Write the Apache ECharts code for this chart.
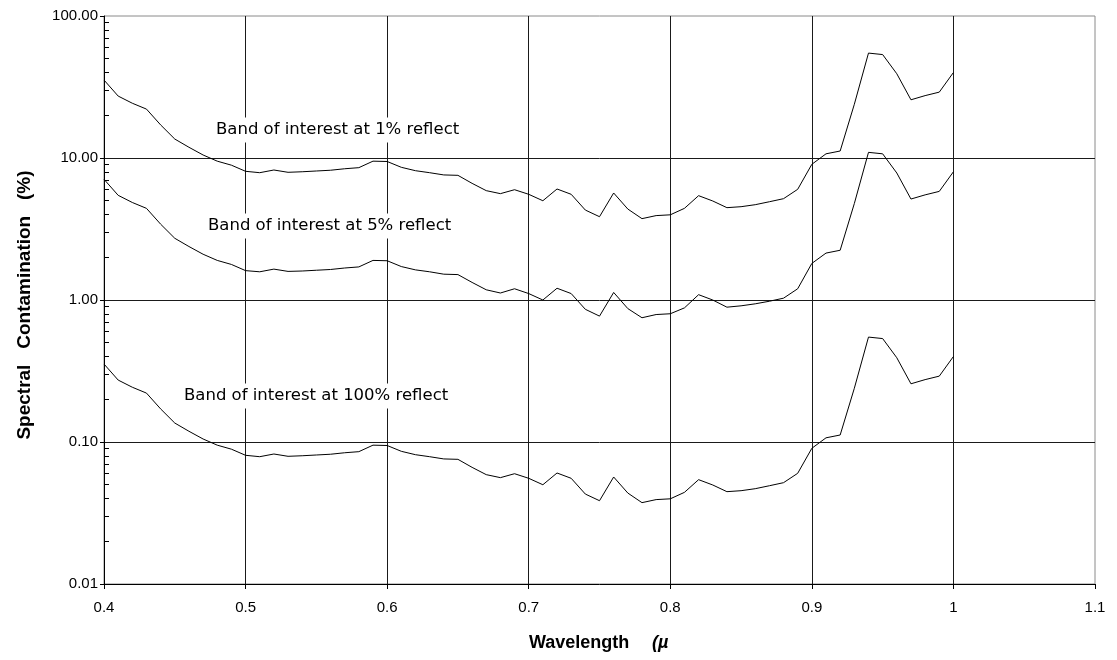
<!DOCTYPE html>
<html>
<head>
<meta charset="utf-8">
<script src="https://cdn.jsdelivr.net/npm/echarts@6/dist/echarts.min.js"></script>
<style>
html,body{margin:0;padding:0;background:#fff;}
#chart{width:1117px;height:660px;}
</style>
</head>
<body>
<div id="chart"></div>
<script>
// Wavelength (µm)
const wavelength = [0.40,0.41,0.42,0.43,0.44,0.45,0.46,0.47,0.48,0.49,
  0.50,0.51,0.52,0.53,0.54,0.55,0.56,0.57,0.58,0.59,
  0.60,0.61,0.62,0.63,0.64,0.65,0.66,0.67,0.68,0.69,
  0.70,0.71,0.72,0.73,0.74,0.75,0.76,0.77,0.78,0.79,
  0.80,0.81,0.82,0.83,0.84,0.85,0.86,0.87,0.88,0.89,
  0.90,0.91,0.92,0.93,0.94,0.95,0.96,0.97,0.98,0.99,1.00];

// Band of interest at 1% reflectance
const refl1 = [35.4,27.3,24.3,22.1,17.1,13.6,11.9,10.5,9.5,8.9,
  8.06,7.88,8.23,7.93,8.0,8.1,8.2,8.4,8.55,9.5,
  9.45,8.6,8.14,7.88,7.6,7.55,6.63,5.89,5.61,5.98,
  5.55,5.0,6.05,5.55,4.3,3.86,5.67,4.37,3.74,3.93,
  3.98,4.42,5.43,4.98,4.47,4.54,4.69,4.92,5.17,6.02,
  9.03,10.7,11.2,23.9,54.8,53.5,39.2,25.7,27.5,29.1,40.0];

// Band of interest at 5% reflectance
const refl5 = [7.08,5.46,4.86,4.42,3.42,2.72,2.38,2.10,1.90,1.78,
  1.61,1.58,1.65,1.59,1.60,1.62,1.64,1.68,1.71,1.90,
  1.89,1.72,1.63,1.58,1.52,1.51,1.33,1.18,1.12,1.20,
  1.11,1.00,1.21,1.11,0.86,0.77,1.13,0.87,0.75,0.79,
  0.80,0.88,1.09,1.00,0.89,0.91,0.94,0.98,1.03,1.20,
  1.81,2.14,2.24,4.78,10.96,10.70,7.84,5.14,5.50,5.82,8.00];

// Band of interest at 100% reflectance
const refl100 = [0.354,0.273,0.243,0.221,0.171,0.136,0.119,0.105,0.095,0.089,
  0.0806,0.0788,0.0823,0.0793,0.080,0.081,0.082,0.084,0.0855,0.095,
  0.0945,0.086,0.0814,0.0788,0.076,0.0755,0.0663,0.0589,0.0561,0.0598,
  0.0555,0.050,0.0605,0.0555,0.043,0.0386,0.0567,0.0437,0.0374,0.0393,
  0.0398,0.0442,0.0543,0.0498,0.0447,0.0454,0.0469,0.0492,0.0517,0.0602,
  0.0903,0.107,0.112,0.239,0.548,0.535,0.392,0.257,0.275,0.291,0.400];

const bandLabels = ['Band of interest at 1% reflectance',
                    'Band of interest at 5% reflectance',
                    'Band of interest at 100% reflectance'];

const yMinorTicks = [0.02,0.03,0.04,0.05,0.06,0.07,0.08,0.09,
  0.2,0.3,0.4,0.5,0.6,0.7,0.8,0.9,
  2,3,4,5,6,7,8,9,
  20,30,40,50,60,70,80,90];

const xTitle = 'Wavelength';
const xUnit = '(µm)';
const yTitle = 'Spectral   Contamination   (%)';

function pairs(xs, ys){ return xs.map((x,i)=>[x, ys[i]]); }

const chart = echarts.init(document.getElementById('chart'), null, {renderer:'canvas'});

const lineStyle = {color:'#000', width:1};
const labelFont = {fontFamily:'Liberation Sans', fontSize:15, color:'#000'};
const bandFont = '16.5px "DejaVu Sans"';

function bandText(text, left, cy, right){
  return {
    type:'text', z:100,
    style:{
      text:text, x:left, y:cy, verticalAlign:'middle', align:'left',
      font:bandFont, fill:'#000',
      backgroundColor:'#fff', padding:[4,4,4,4],
      width:right-left-8, overflow:'truncate', ellipsis:''
    }
  };
}

const option = {
  animation:false,
  backgroundColor:'#fff',
  grid:{left:104, right:22, top:16, bottom:76, show:true, borderColor:'#8a8a8a', borderWidth:1, backgroundColor:'transparent'},
  xAxis:{
    type:'value', min:0.4, max:1.1, interval:0.1,
    axisLine:{show:true, onZero:false, lineStyle:{color:'#000', width:1}},
    axisTick:{show:true, inside:false, length:5, lineStyle:{color:'#000'}},
    axisLabel:Object.assign({margin:16, formatter:v=>String(Math.round(v*10)/10)}, labelFont),
    splitLine:{show:true, showMinLine:false, showMaxLine:false, lineStyle:{color:'#1a1a1a', width:1}}
  },
  yAxis:[{
    type:'log', logBase:10, min:0.01, max:100,
    axisLine:{show:true, onZero:false, lineStyle:{color:'#000', width:1}},
    axisTick:{show:true, inside:false, length:4, lineStyle:{color:'#000'}},
    axisLabel:Object.assign({margin:6, formatter:v=>Number(v).toFixed(2)}, labelFont),
    splitLine:{show:true, showMinLine:false, showMaxLine:false, lineStyle:{color:'#1a1a1a', width:1}}
  },{
    type:'log', logBase:10, min:0.01, max:100, position:'left',
    axisLine:{show:false},
    axisTick:{show:true, inside:true, length:5, customValues:yMinorTicks, lineStyle:{color:'#000'}},
    axisLabel:{show:false},
    splitLine:{show:false}
  }],
  series:[
    {name:bandLabels[0], type:'line', data:pairs(wavelength, refl1), showSymbol:false, symbol:'none', lineStyle:lineStyle, z:5},
    {name:bandLabels[1], type:'line', data:pairs(wavelength, refl5), showSymbol:false, symbol:'none', lineStyle:lineStyle, z:5},
    {name:bandLabels[2], type:'line', data:pairs(wavelength, refl100), showSymbol:false, symbol:'none', lineStyle:lineStyle, z:5}
  ],
  graphic:[
    bandText(bandLabels[0], 212, 130, 470),
    bandText(bandLabels[1], 204, 226, 461),
    bandText(bandLabels[2], 180, 396, 459),
    {type:'text', z:100, style:{text:yTitle, x:0, y:0, align:'center', verticalAlign:'middle',
      font:'bold 19px "Liberation Sans"', fill:'#000'}, x:25, y:305, rotation:Math.PI/2},
    {type:'text', z:100, style:{text:xTitle, x:529, y:643, align:'left', verticalAlign:'middle',
      font:'bold 18px "Liberation Sans"', fill:'#000'}},
    {type:'text', z:100, style:{text:xUnit, x:652, y:643, align:'left', verticalAlign:'middle',
      font:'bold italic 18px "Liberation Sans"', fill:'#000', width:22, overflow:'truncate', ellipsis:''}}
  ]
};
chart.setOption(option);
</script>
</body>
</html>
